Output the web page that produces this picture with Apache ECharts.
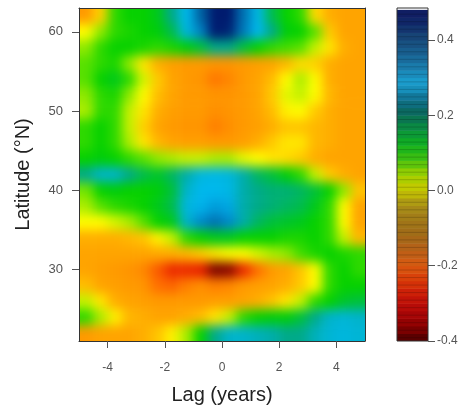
<!DOCTYPE html>
<html>
<head>
<meta charset="utf-8">
<script src="https://cdn.jsdelivr.net/npm/echarts@6/dist/echarts.min.js"></script>
<style>
html,body{margin:0;padding:0;background:#fff;}
#wrap{position:relative;width:472px;height:410px;background:#fff;}
#chart{position:absolute;left:0;top:0;width:472px;height:410px;}
#fieldClip{position:absolute;left:79px;top:8px;width:286px;height:333px;overflow:hidden;}
#field{position:absolute;left:-24px;top:-24px;width:334px;height:381px;filter:blur(5.5px);}
</style>
</head>
<body>
<div id="wrap">
  <div id="fieldClip"><div id="field"></div></div>
  <div id="chart"></div>
</div>
<script>
// Lag (years) cell centres, latitude (°N) cell centres (north to south)
const lags = [-4.75,-4.25,-3.75,-3.25,-2.75,-2.25,-1.75,-1.25,-0.75,-0.25,0.25,0.75,1.25,1.75,2.25,2.75,3.25,3.75,4.25,4.75];
const lats = [62,60,58,56,54,52,50,48,46,44,42,40,38,36,34,32,30,28,26,24,22];
// correlation values, one row per latitude, one column per lag
const corr = [
 [-0.14,-0.04,0.10,0.12,0.12,0.14,0.20,0.28,0.38,0.46,0.46,0.36,0.27,0.17,0.12,0.10,-0.03,-0.10,-0.12,-0.12],
 [0.00,0.06,0.10,0.11,0.12,0.13,0.17,0.26,0.34,0.46,0.45,0.35,0.28,0.20,0.13,0.12,0.08,-0.05,-0.12,-0.12],
 [0.06,0.10,0.12,0.12,0.11,0.10,0.11,0.13,0.16,0.20,0.20,0.16,0.12,0.10,0.09,0.08,0.04,-0.02,-0.10,-0.12],
 [0.08,0.10,0.11,0.06,-0.02,-0.10,-0.13,-0.14,-0.14,-0.15,-0.15,-0.14,-0.13,-0.12,-0.08,-0.03,-0.04,-0.10,-0.12,-0.12],
 [0.08,0.12,0.14,0.10,0.03,-0.05,-0.12,-0.14,-0.15,-0.19,-0.17,-0.14,-0.12,-0.07,0.00,0.05,0.00,-0.10,-0.12,-0.12],
 [0.06,0.10,0.11,0.06,0.00,-0.07,-0.12,-0.14,-0.14,-0.15,-0.15,-0.14,-0.12,-0.05,0.02,0.04,0.00,-0.08,-0.12,-0.12],
 [0.05,0.10,0.10,0.04,-0.02,-0.10,-0.13,-0.14,-0.14,-0.16,-0.15,-0.14,-0.12,-0.07,-0.01,0.00,-0.05,-0.10,-0.12,-0.12],
 [0.10,0.12,0.10,0.04,-0.04,-0.12,-0.14,-0.15,-0.15,-0.18,-0.16,-0.14,-0.13,-0.10,-0.06,-0.06,-0.08,-0.10,-0.12,-0.12],
 [0.10,0.12,0.10,0.05,-0.02,-0.08,-0.12,-0.13,-0.13,-0.14,-0.14,-0.13,-0.10,-0.05,-0.02,-0.02,-0.08,-0.10,-0.12,-0.12],
 [0.12,0.13,0.12,0.10,0.08,0.06,0.05,0.04,0.04,0.05,0.05,0.02,0.00,-0.02,-0.03,-0.05,-0.10,-0.12,-0.12,-0.12],
 [0.20,0.24,0.24,0.20,0.17,0.15,0.18,0.22,0.26,0.27,0.26,0.22,0.18,0.16,0.13,0.10,0.04,-0.05,-0.10,-0.12],
 [0.07,0.12,0.13,0.12,0.12,0.13,0.16,0.24,0.28,0.28,0.27,0.22,0.20,0.19,0.19,0.18,0.16,0.12,0.06,-0.06],
 [0.05,0.08,0.10,0.11,0.12,0.14,0.17,0.26,0.29,0.31,0.30,0.22,0.20,0.19,0.18,0.17,0.14,0.10,0.00,-0.12],
 [0.00,0.00,0.03,0.05,0.08,0.12,0.14,0.24,0.33,0.36,0.33,0.22,0.18,0.16,0.15,0.14,0.12,0.10,0.00,-0.12],
 [-0.10,-0.10,-0.10,-0.08,-0.06,-0.01,0.04,0.10,0.12,0.14,0.14,0.12,0.12,0.12,0.11,0.11,0.12,0.10,0.04,-0.08],
 [-0.12,-0.12,-0.12,-0.12,-0.12,-0.11,-0.10,-0.08,-0.05,-0.02,0.00,0.00,0.03,0.05,0.06,0.09,0.11,0.12,0.11,0.10],
 [-0.12,-0.13,-0.14,-0.15,-0.17,-0.22,-0.27,-0.27,-0.28,-0.38,-0.37,-0.27,-0.20,-0.14,-0.12,-0.06,0.00,0.10,0.12,0.10],
 [-0.07,-0.12,-0.13,-0.14,-0.15,-0.20,-0.21,-0.18,-0.16,-0.18,-0.17,-0.14,-0.13,-0.12,-0.10,-0.05,0.00,0.10,0.12,0.12],
 [0.04,-0.02,-0.10,-0.12,-0.13,-0.14,-0.14,-0.14,-0.14,-0.13,-0.13,-0.12,-0.10,-0.06,-0.02,0.04,0.10,0.12,0.15,0.16],
 [0.10,0.05,-0.01,-0.08,-0.10,-0.12,-0.12,-0.10,-0.07,-0.02,0.04,0.10,0.12,0.13,0.13,0.16,0.20,0.24,0.25,0.24],
 [-0.14,-0.12,-0.12,-0.12,-0.10,-0.06,-0.01,0.05,0.12,0.20,0.24,0.24,0.23,0.22,0.20,0.20,0.23,0.25,0.26,0.25]
];
const xTicks = [-4,-2,0,2,4];
const yTicks = [30,40,50,60];
const keyTicks = [-0.4,-0.2,0.0,0.2,0.4];
const keyLevels = [-0.40,-0.38,-0.36,-0.34,-0.32,-0.30,-0.28,-0.26,-0.24,-0.22,-0.20,-0.18,-0.16,-0.14,-0.12,-0.10,-0.08,-0.06,-0.04,-0.02,0.00,0.02,0.04,0.06,0.08,0.10,0.12,0.14,0.16,0.18,0.20,0.22,0.24,0.26,0.28,0.30,0.32,0.34,0.36,0.38,0.40,0.42,0.44,0.46];

const zMin = -0.40, zMax = 0.485;
const fieldColors = ['#5a0000','#9a0000','#d00000','#e82000','#f54800','#ff7000','#ff9000','#ffa500','#ffb800','#ffd200','#ffff00','#c0f000','#50e000','#00d000','#00c040','#00a890','#00b4d0','#00b8f0','#0090d0','#0070b0','#005090','#002c78','#000060'];
const keyColors = ['#4a0000','#8a0000','#b00808','#c81808','#d83a08','#d85a10','#b86018','#a06a18','#a07818','#a89018','#c8c800','#a0d000','#40c010','#10b020','#0a9040','#0a6858','#107090','#1aa0d0','#1a80b0','#186090','#184878','#102868','#101860'];

const fieldData = [];
lats.forEach((lat, i) => lags.forEach((lag, j) => fieldData.push([lag, lat, corr[i][j]])));
const dLag = Math.abs(lags[1] - lags[0]);
const dLat = Math.abs(lats[0] - lats[1]);
const dKey = keyLevels[1] - keyLevels[0];
const font = 'Liberation Sans, Arial, sans-serif';
const bleed = 24; // field drawn past the frame so the smoothing has no blank edge

// ---- field layer (smoothed like the original interpolated image) ----
const field = echarts.init(document.getElementById('field'));
field.setOption({
  animation: false,
  grid: {left: bleed, top: bleed, width: 286, height: 333, show: false},
  xAxis: {type: 'value', min: -5, max: 5, show: false},
  yAxis: {type: 'value', min: 21, max: 63, show: false},
  visualMap: {type: 'continuous', show: false, min: zMin, max: zMax, dimension: 2, inRange: {color: fieldColors}},
  series: [{
    type: 'custom', clip: false,
    data: fieldData,
    renderItem: function (params, api) {
      const lag = api.value(0), lat = api.value(1);
      const p0 = api.coord([lag - dLag / 2, lat + dLat / 2]);
      const p1 = api.coord([lag + dLag / 2, lat - dLat / 2]);
      let x0 = p0[0], y0 = p0[1], x1 = p1[0], y1 = p1[1];
      if (lag === lags[0]) x0 -= bleed;
      if (lag === lags[lags.length - 1]) x1 += bleed;
      if (lat === lats[0]) y0 -= bleed;
      if (lat === lats[lats.length - 1]) y1 += bleed;
      return {type: 'rect', shape: {x: x0, y: y0, width: x1 - x0 + 0.6, height: y1 - y0 + 0.6},
              style: {fill: api.visual('color')}};
    }
  }]
});

// ---- axes, frame and colour key ----
const chart = echarts.init(document.getElementById('chart'));
const frameLine = {show: true, onZero: false, lineStyle: {color: '#333', width: 1}};
chart.setOption({
  animation: false,
  backgroundColor: 'transparent',
  grid: [
    {left: 79, top: 8, width: 286, height: 333, show: false},
    {left: 397, top: 8, width: 31, height: 333, show: false}
  ],
  xAxis: [
    {gridIndex: 0, type: 'value', min: -5, max: 5, name: 'Lag (years)', nameLocation: 'middle', nameGap: 44,
     nameTextStyle: {fontFamily: font, fontSize: 20, color: '#222'},
     axisLine: frameLine,
     axisTick: {show: true, length: 7, customValues: xTicks, lineStyle: {color: '#555'}},
     axisLabel: {customValues: xTicks, margin: 21, fontFamily: font, fontSize: 12, color: '#555'},
     splitLine: {show: false}},
    {gridIndex: 0, type: 'value', min: -5, max: 5, position: 'top',
     axisLine: frameLine, axisTick: {show: false}, axisLabel: {show: false}, splitLine: {show: false}},
    {gridIndex: 1, type: 'value', min: 0, max: 1, show: false}
  ],
  yAxis: [
    {gridIndex: 0, type: 'value', min: 21, max: 63, name: 'Latitude (°N)', nameLocation: 'middle', nameGap: 46,
     nameTextStyle: {fontFamily: font, fontSize: 20, color: '#222'},
     axisLine: frameLine,
     axisTick: {show: true, length: 7, customValues: yTicks, lineStyle: {color: '#555'}},
     axisLabel: {customValues: yTicks, margin: 16, fontFamily: font, fontSize: 13, color: '#555'},
     splitLine: {show: false}},
    {gridIndex: 0, type: 'value', min: 21, max: 63, position: 'right',
     axisLine: frameLine, axisTick: {show: false}, axisLabel: {show: false}, splitLine: {show: false}},
    {gridIndex: 1, type: 'value', min: zMin, max: zMax, position: 'right',
     axisLine: {show: false, onZero: false},
     axisTick: {show: true, length: 7, customValues: keyTicks, lineStyle: {color: '#555'}},
     axisLabel: {customValues: keyTicks, margin: 9, fontFamily: font, fontSize: 12, color: '#555', formatter: v => v.toFixed(1)},
     splitLine: {show: false}}
  ],
  visualMap: [
    {type: 'continuous', show: false, min: zMin, max: zMax, dimension: 1, seriesIndex: 0, inRange: {color: keyColors}}
  ],
  series: [
    {
      type: 'custom', xAxisIndex: 2, yAxisIndex: 2, clip: true,
      data: keyLevels.map(v => [0, v + dKey / 2]),
      renderItem: function (params, api) {
        const lv = api.value(1);
        const p0 = api.coord([0, lv + dKey / 2]);
        const p1 = api.coord([1, lv - dKey / 2]);
        return {type: 'group', children: [
          {type: 'rect', shape: {x: p0[0], y: p0[1], width: p1[0] - p0[0], height: p1[1] - p0[1] + 0.5}, style: {fill: api.visual('color')}},
          {type: 'rect', shape: {x: p0[0], y: p0[1] + (p1[1] - p0[1]) * 0.5, width: p1[0] - p0[0], height: 1}, style: {fill: 'rgba(0,0,0,0.18)'}}
        ]};
      }
    }
  ],
  graphic: [
    {type: 'rect', shape: {x: 397, y: 8, width: 31, height: 333}, style: {fill: 'none', stroke: '#333', lineWidth: 1}, z: 100}
  ]
});
</script>
</body>
</html>
